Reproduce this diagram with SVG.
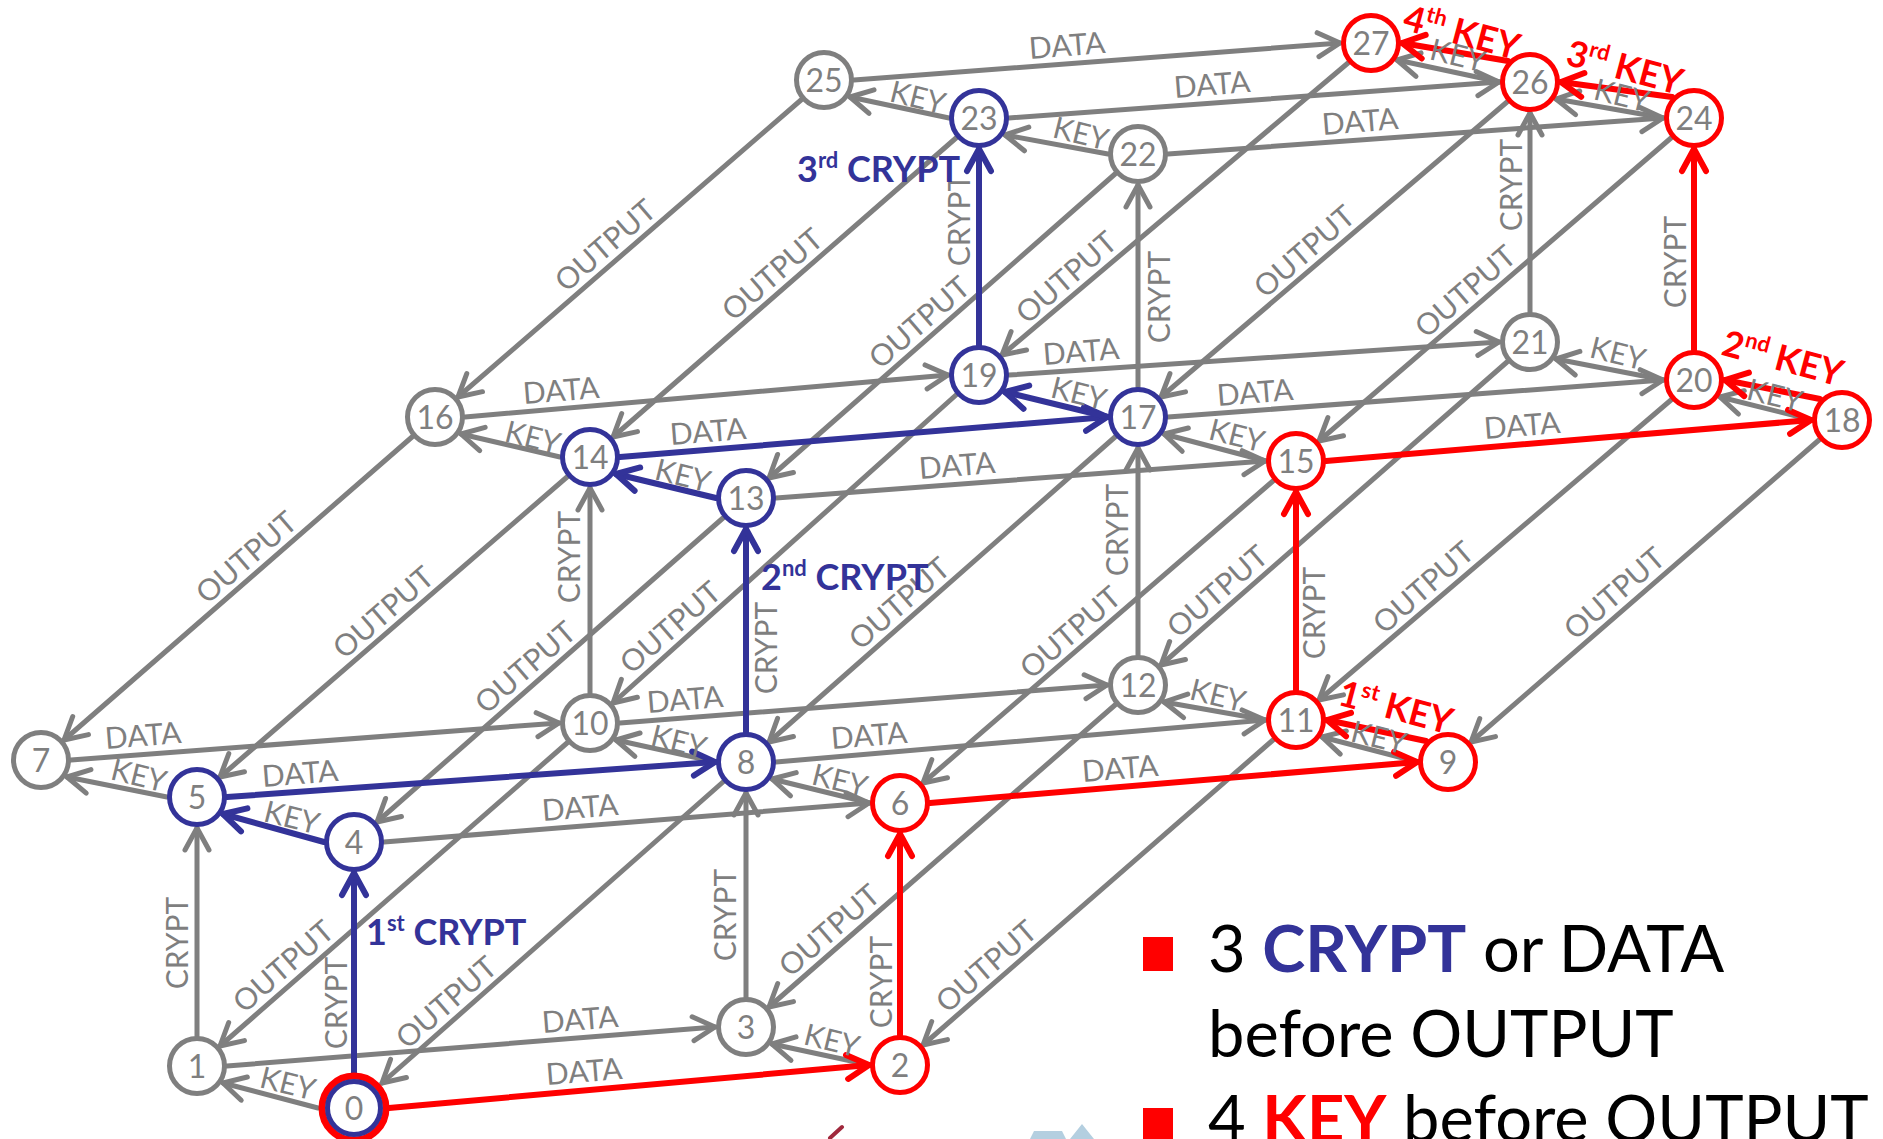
<svg xmlns="http://www.w3.org/2000/svg" width="1883" height="1139" viewBox="0 0 1883 1139">
<style>
.e{fill:none;stroke:#7f7f7f;stroke-width:5;stroke-linecap:round;marker-end:url(#ag)}
.eb{fill:none;stroke:#333399;stroke-width:6;stroke-linecap:round;marker-end:url(#ab)}
.er{fill:none;stroke:#ff0000;stroke-width:6;stroke-linecap:round;marker-end:url(#ar)}
.n circle{fill:#fff;stroke:#7f7f7f;stroke-width:5}
.nb circle{stroke:#333399}
.nr circle{stroke:#ff0000}
.n text{font-family:Lato,'Liberation Sans',sans-serif;font-size:32px;fill:#7f7f7f;text-anchor:middle}
.l{font-family:Lato,'Liberation Sans',sans-serif;font-size:30px;fill:#7f7f7f;text-anchor:middle}
.rk{font-family:Lato,'Liberation Sans',sans-serif;font-size:36px;font-weight:bold;fill:#ff0000;text-anchor:middle}
.bc{font-family:Lato,'Liberation Sans',sans-serif;font-size:36px;font-weight:bold;fill:#333399}
.lg{font-family:Lato,'Liberation Sans',sans-serif;font-size:65px;fill:#000}
</style>
<defs>
<marker id="ag" markerUnits="userSpaceOnUse" orient="auto" markerWidth="40" markerHeight="40" refX="0" refY="0" overflow="visible"><path d="M-22,-12 L0,0 L-22,12" fill="none" stroke="#7f7f7f" stroke-width="5" stroke-linecap="round" stroke-linejoin="round"/></marker>
<marker id="ab" markerUnits="userSpaceOnUse" orient="auto" markerWidth="40" markerHeight="40" refX="0" refY="0" overflow="visible"><path d="M-22,-12 L0,0 L-22,12" fill="none" stroke="#333399" stroke-width="6" stroke-linecap="round" stroke-linejoin="round"/></marker>
<marker id="ar" markerUnits="userSpaceOnUse" orient="auto" markerWidth="40" markerHeight="40" refX="0" refY="0" overflow="visible"><path d="M-22,-12 L0,0 L-22,12" fill="none" stroke="#ff0000" stroke-width="6" stroke-linecap="round" stroke-linejoin="round"/></marker>
</defs>
<rect width="1883" height="1139" fill="#fff"/>
<g id="connectors">
<!-- KEY gray -->
<line class="e" x1="318" y1="1108" x2="223" y2="1083"/>
<line class="e" x1="870" y1="1065" x2="772" y2="1044"/>
<line class="e" x1="167" y1="797" x2="67" y2="777"/>
<line class="e" x1="870" y1="803" x2="772" y2="779"/>
<line class="e" x1="716" y1="762" x2="616" y2="740"/>
<line class="e" x1="1418" y1="762" x2="1322" y2="737"/>
<line class="e" x1="1266" y1="720" x2="1164" y2="702"/>
<line class="e" x1="560" y1="457" x2="461" y2="434"/>
<line class="e" x1="1266" y1="461" x2="1164" y2="434"/>
<line class="e" x1="1812" y1="420" x2="1720" y2="397"/>
<line class="e" x1="1664" y1="380" x2="1556" y2="359"/>
<line class="e" x1="1108" y1="154" x2="1005" y2="135"/>
<line class="e" x1="949" y1="118" x2="850" y2="97"/>
<line class="e" x1="1664" y1="118" x2="1556" y2="99"/>
<line class="e" x1="1500" y1="82" x2="1397" y2="60"/>
<!-- DATA gray -->
<line class="e" x1="227" y1="1066" x2="715" y2="1027"/>
<line class="e" x1="384" y1="842" x2="869" y2="803"/>
<line class="e" x1="71" y1="760" x2="559" y2="723"/>
<line class="e" x1="776" y1="762" x2="1265" y2="720"/>
<line class="e" x1="620" y1="723" x2="1107" y2="685"/>
<line class="e" x1="776" y1="498" x2="1265" y2="461"/>
<line class="e" x1="465" y1="417" x2="948" y2="375"/>
<line class="e" x1="1168" y1="417" x2="1663" y2="380"/>
<line class="e" x1="1009" y1="375" x2="1499" y2="342"/>
<line class="e" x1="1168" y1="154" x2="1663" y2="118"/>
<line class="e" x1="1009" y1="118" x2="1499" y2="82"/>
<line class="e" x1="854" y1="80" x2="1340" y2="43"/>
<!-- CRYPT gray -->
<line class="e" x1="197" y1="1036" x2="197" y2="828"/>
<line class="e" x1="746" y1="997" x2="746" y2="793"/>
<line class="e" x1="590" y1="693" x2="590" y2="488"/>
<line class="e" x1="1138" y1="655" x2="1138" y2="448"/>
<line class="e" x1="1138" y1="387" x2="1138" y2="185"/>
<line class="e" x1="1530" y1="312" x2="1530" y2="113"/>
<!-- OUTPUT gray -->
<line class="e" x1="723" y1="782" x2="382" y2="1083"/>
<line class="e" x1="567" y1="743" x2="220" y2="1046"/>
<line class="e" x1="1273" y1="740" x2="923" y2="1045"/>
<line class="e" x1="1115" y1="705" x2="769" y2="1007"/>
<line class="e" x1="723" y1="518" x2="377" y2="822"/>
<line class="e" x1="567" y1="477" x2="220" y2="777"/>
<line class="e" x1="1273" y1="481" x2="923" y2="783"/>
<line class="e" x1="412" y1="437" x2="64" y2="740"/>
<line class="e" x1="1115" y1="437" x2="769" y2="742"/>
<line class="e" x1="1819" y1="440" x2="1471" y2="742"/>
<line class="e" x1="956" y1="395" x2="613" y2="703"/>
<line class="e" x1="1671" y1="400" x2="1319" y2="700"/>
<line class="e" x1="1507" y1="362" x2="1161" y2="665"/>
<line class="e" x1="1115" y1="174" x2="769" y2="478"/>
<line class="e" x1="956" y1="138" x2="613" y2="437"/>
<line class="e" x1="1671" y1="138" x2="1319" y2="441"/>
<line class="e" x1="801" y1="100" x2="458" y2="397"/>
<line class="e" x1="1507" y1="102" x2="1161" y2="397"/>
<line class="e" x1="1348" y1="63" x2="1002" y2="355"/>
<!-- blue path -->
<line class="eb" x1="354" y1="1078" x2="354" y2="873"/>
<line class="eb" x1="324" y1="842" x2="223" y2="814"/>
<line class="eb" x1="227" y1="797" x2="715" y2="762"/>
<line class="eb" x1="746" y1="732" x2="746" y2="529"/>
<line class="eb" x1="716" y1="498" x2="616" y2="474"/>
<line class="eb" x1="620" y1="457" x2="1107" y2="417"/>
<line class="eb" x1="1108" y1="417" x2="1005" y2="392"/>
<line class="eb" x1="979" y1="345" x2="979" y2="149"/>
<!-- red path -->
<line class="er" x1="389" y1="1108" x2="869" y2="1065"/>
<line class="er" x1="900" y1="1035" x2="900" y2="834"/>
<line class="er" x1="930" y1="803" x2="1417" y2="762"/>
<line class="er" x1="1426" y1="741" x2="1327" y2="720"/>
<line class="er" x1="1296" y1="690" x2="1296" y2="492"/>
<line class="er" x1="1326" y1="461" x2="1811" y2="420"/>
<line class="er" x1="1820" y1="399" x2="1725" y2="380"/>
<line class="er" x1="1694" y1="350" x2="1694" y2="149"/>
<line class="er" x1="1672" y1="97" x2="1561" y2="82"/>
<line class="er" x1="1508" y1="61" x2="1402" y2="43"/>
</g>
<g id="nodes">
<g id="n0" class="n"><circle cx="354" cy="1108" r="32" style="stroke:#ff0000;stroke-width:7"/><circle cx="354" cy="1108" r="26.5" style="stroke:#333399;stroke-width:5"/><text x="354" y="1119.5">0</text></g>
<g id="n1" class="n"><circle cx="197" cy="1066" r="27.5"/><text x="197" y="1077.5">1</text></g>
<g id="n2" class="n nr"><circle cx="900" cy="1065" r="27.5"/><text x="900" y="1076.5">2</text></g>
<g id="n3" class="n"><circle cx="746" cy="1027" r="27.5"/><text x="746" y="1038.5">3</text></g>
<g id="n4" class="n nb"><circle cx="354" cy="842" r="27.5"/><text x="354" y="853.5">4</text></g>
<g id="n5" class="n nb"><circle cx="197" cy="797" r="27.5"/><text x="197" y="808.5">5</text></g>
<g id="n6" class="n nr"><circle cx="900" cy="803" r="27.5"/><text x="900" y="814.5">6</text></g>
<g id="n7" class="n"><circle cx="41" cy="760" r="27.5"/><text x="41" y="771.5">7</text></g>
<g id="n8" class="n nb"><circle cx="746" cy="762" r="27.5"/><text x="746" y="773.5">8</text></g>
<g id="n9" class="n nr"><circle cx="1448" cy="762" r="27.5"/><text x="1448" y="773.5">9</text></g>
<g id="n10" class="n"><circle cx="590" cy="723" r="27.5"/><text x="590" y="734.5">10</text></g>
<g id="n11" class="n nr"><circle cx="1296" cy="720" r="27.5"/><text x="1296" y="731.5">11</text></g>
<g id="n12" class="n"><circle cx="1138" cy="685" r="27.5"/><text x="1138" y="696.5">12</text></g>
<g id="n13" class="n nb"><circle cx="746" cy="498" r="27.5"/><text x="746" y="509.5">13</text></g>
<g id="n14" class="n nb"><circle cx="590" cy="457" r="27.5"/><text x="590" y="468.5">14</text></g>
<g id="n15" class="n nr"><circle cx="1296" cy="461" r="27.5"/><text x="1296" y="472.5">15</text></g>
<g id="n16" class="n"><circle cx="435" cy="417" r="27.5"/><text x="435" y="428.5">16</text></g>
<g id="n17" class="n nb"><circle cx="1138" cy="417" r="27.5"/><text x="1138" y="428.5">17</text></g>
<g id="n18" class="n nr"><circle cx="1842" cy="420" r="27.5"/><text x="1842" y="431.5">18</text></g>
<g id="n19" class="n nb"><circle cx="979" cy="375" r="27.5"/><text x="979" y="386.5">19</text></g>
<g id="n20" class="n nr"><circle cx="1694" cy="380" r="27.5"/><text x="1694" y="391.5">20</text></g>
<g id="n21" class="n"><circle cx="1530" cy="342" r="27.5"/><text x="1530" y="353.5">21</text></g>
<g id="n22" class="n"><circle cx="1138" cy="154" r="27.5"/><text x="1138" y="165.5">22</text></g>
<g id="n23" class="n nb"><circle cx="979" cy="118" r="27.5"/><text x="979" y="129.5">23</text></g>
<g id="n24" class="n nr"><circle cx="1694" cy="118" r="27.5"/><text x="1694" y="129.5">24</text></g>
<g id="n25" class="n"><circle cx="824" cy="80" r="27.5"/><text x="824" y="91.5">25</text></g>
<g id="n26" class="n nr"><circle cx="1530" cy="82" r="27.5"/><text x="1530" y="93.5">26</text></g>
<g id="n27" class="n nr"><circle cx="1371" cy="43" r="27.5"/><text x="1371" y="54.5">27</text></g>
</g>
<g id="edge-labels">
<!-- KEY -->
<text class="l" transform="translate(288 1083) rotate(14)" y="11">KEY</text>
<text class="l" transform="translate(292 817) rotate(14)" y="11">KEY</text>
<text class="l" transform="translate(139 775) rotate(14)" y="11">KEY</text>
<text class="l" transform="translate(832 1040) rotate(14)" y="11">KEY</text>
<text class="l" transform="translate(840 780) rotate(14)" y="11">KEY</text>
<text class="l" transform="translate(679 741) rotate(14)" y="11">KEY</text>
<text class="l" transform="translate(1379 737) rotate(14)" y="11">KEY</text>
<text class="l" transform="translate(1218 695) rotate(14)" y="11">KEY</text>
<text class="l" transform="translate(683 475) rotate(14)" y="11">KEY</text>
<text class="l" transform="translate(533 437) rotate(14)" y="11">KEY</text>
<text class="l" transform="translate(1237 435) rotate(14)" y="11">KEY</text>
<text class="l" transform="translate(1079 393) rotate(14)" y="11">KEY</text>
<text class="l" transform="translate(1775 395) rotate(14)" y="11">KEY</text>
<text class="l" transform="translate(1618 353) rotate(14)" y="11">KEY</text>
<text class="l" transform="translate(1081 133) rotate(14)" y="11">KEY</text>
<text class="l" transform="translate(918 97) rotate(14)" y="11">KEY</text>
<text class="l" transform="translate(1622 95) rotate(14)" y="11">KEY</text>
<text class="l" transform="translate(1458 55) rotate(14)" y="11">KEY</text>
<!-- DATA -->
<text class="l" transform="translate(584 1071) rotate(-4.6)" y="11">DATA</text>
<text class="l" transform="translate(580 1019) rotate(-4.6)" y="11">DATA</text>
<text class="l" transform="translate(580 807) rotate(-4.6)" y="11">DATA</text>
<text class="l" transform="translate(300 773) rotate(-4.6)" y="11">DATA</text>
<text class="l" transform="translate(1120 768) rotate(-4.6)" y="11">DATA</text>
<text class="l" transform="translate(143 735) rotate(-4.6)" y="11">DATA</text>
<text class="l" transform="translate(869 735) rotate(-4.6)" y="11">DATA</text>
<text class="l" transform="translate(685 699) rotate(-4.6)" y="11">DATA</text>
<text class="l" transform="translate(957 465) rotate(-4.6)" y="11">DATA</text>
<text class="l" transform="translate(708 431) rotate(-4.6)" y="11">DATA</text>
<text class="l" transform="translate(1522 425) rotate(-4.6)" y="11">DATA</text>
<text class="l" transform="translate(561 390) rotate(-4.6)" y="11">DATA</text>
<text class="l" transform="translate(1255 392) rotate(-4.6)" y="11">DATA</text>
<text class="l" transform="translate(1081 351) rotate(-4.6)" y="11">DATA</text>
<text class="l" transform="translate(1360 121) rotate(-4.6)" y="11">DATA</text>
<text class="l" transform="translate(1212 84) rotate(-4.6)" y="11">DATA</text>
<text class="l" transform="translate(1067 45) rotate(-4.6)" y="11">DATA</text>
<!-- CRYPT -->
<text class="l" transform="translate(336 1003) rotate(-90)" y="11">CRYPT</text>
<text class="l" transform="translate(177 943) rotate(-90)" y="11">CRYPT</text>
<text class="l" transform="translate(881 982) rotate(-90)" y="11">CRYPT</text>
<text class="l" transform="translate(725 915) rotate(-90)" y="11">CRYPT</text>
<text class="l" transform="translate(766 648) rotate(-90)" y="11">CRYPT</text>
<text class="l" transform="translate(569 557) rotate(-90)" y="11">CRYPT</text>
<text class="l" transform="translate(1314 613) rotate(-90)" y="11">CRYPT</text>
<text class="l" transform="translate(1117 530) rotate(-90)" y="11">CRYPT</text>
<text class="l" transform="translate(1159 297) rotate(-90)" y="11">CRYPT</text>
<text class="l" transform="translate(959 220) rotate(-90)" y="11">CRYPT</text>
<text class="l" transform="translate(1675 262) rotate(-90)" y="11">CRYPT</text>
<text class="l" transform="translate(1511 185) rotate(-90)" y="11">CRYPT</text>
<!-- OUTPUT -->
<text class="l" transform="translate(446 1002) rotate(-41)" y="11">OUTPUT</text>
<text class="l" transform="translate(283 966) rotate(-41)" y="11">OUTPUT</text>
<text class="l" transform="translate(986 966) rotate(-41)" y="11">OUTPUT</text>
<text class="l" transform="translate(829 930) rotate(-41)" y="11">OUTPUT</text>
<text class="l" transform="translate(525 667) rotate(-41)" y="11">OUTPUT</text>
<text class="l" transform="translate(383 612) rotate(-41)" y="11">OUTPUT</text>
<text class="l" transform="translate(1070 632) rotate(-41)" y="11">OUTPUT</text>
<text class="l" transform="translate(246 557) rotate(-41)" y="11">OUTPUT</text>
<text class="l" transform="translate(899 603) rotate(-41)" y="11">OUTPUT</text>
<text class="l" transform="translate(1614 593) rotate(-41)" y="11">OUTPUT</text>
<text class="l" transform="translate(670 627) rotate(-41)" y="11">OUTPUT</text>
<text class="l" transform="translate(1423 587) rotate(-41)" y="11">OUTPUT</text>
<text class="l" transform="translate(1217 591) rotate(-41)" y="11">OUTPUT</text>
<text class="l" transform="translate(919 322) rotate(-41)" y="11">OUTPUT</text>
<text class="l" transform="translate(772 274) rotate(-41)" y="11">OUTPUT</text>
<text class="l" transform="translate(1465 291) rotate(-41)" y="11">OUTPUT</text>
<text class="l" transform="translate(605 245) rotate(-41)" y="11">OUTPUT</text>
<text class="l" transform="translate(1304 251) rotate(-41)" y="11">OUTPUT</text>
<text class="l" transform="translate(1066 277) rotate(-41)" y="11">OUTPUT</text>
</g>
<g id="path-labels">
<text class="bc" x="366" y="945">1<tspan font-size="22" dy="-14">st</tspan><tspan dy="14"> CRYPT</tspan></text>
<text class="bc" x="761" y="590">2<tspan font-size="22" dy="-14">nd</tspan><tspan dy="14"> CRYPT</tspan></text>
<text class="bc" x="797" y="182">3<tspan font-size="22" dy="-14">rd</tspan><tspan dy="14"> CRYPT</tspan></text>
<text class="rk" transform="translate(1396 707) rotate(15)" y="13">1<tspan font-size="22" dy="-14">st</tspan><tspan dy="14"> KEY</tspan></text>
<text class="rk" transform="translate(1783 358) rotate(15)" y="13">2<tspan font-size="22" dy="-14">nd</tspan><tspan dy="14"> KEY</tspan></text>
<text class="rk" transform="translate(1625 67) rotate(15)" y="13">3<tspan font-size="22" dy="-14">rd</tspan><tspan dy="14"> KEY</tspan></text>
<text class="rk" transform="translate(1462 32) rotate(15)" y="13">4<tspan font-size="22" dy="-14">th</tspan><tspan dy="14"> KEY</tspan></text>
</g>
<g id="legend">
<rect x="1143" y="937" width="30" height="34" fill="#ff0000"/>
<text class="lg" x="1208" y="972">3 <tspan font-weight="bold" fill="#333399">CRYPT</tspan> or DATA</text>
<text class="lg" x="1208" y="1057">before OUTPUT</text>
<rect x="1143" y="1108" width="30" height="34" fill="#ff0000"/>
<text class="lg" x="1208" y="1142">4 <tspan font-weight="bold" fill="#ff0000">KEY</tspan> before OUTPUT</text>
</g>
<g id="fragments">
<path d="M830,1138 L842,1127" stroke="#a0283c" stroke-width="4" stroke-linecap="round" fill="none"/>
<path d="M1030,1139 L1034,1131 L1062,1131 L1066,1139 Z M1070,1139 L1082,1124 L1094,1139 Z" fill="#b4cfe0"/>
</g>
</svg>
